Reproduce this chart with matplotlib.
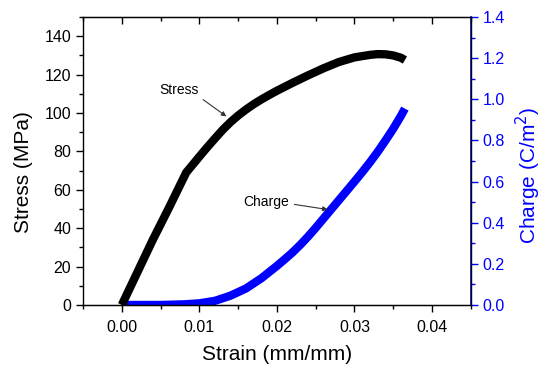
import matplotlib
matplotlib.use("Agg")
import matplotlib.pyplot as plt
from matplotlib.ticker import MultipleLocator, FormatStrFormatter

plt.rcParams['font.family'] = ['Liberation Sans', 'DejaVu Sans']

# Data
strain_s = [0.0, 0.002, 0.004, 0.006, 0.008, 0.0083, 0.009, 0.010, 0.011, 0.012,
            0.013, 0.014, 0.015, 0.016, 0.017, 0.018, 0.019, 0.020, 0.022, 0.024,
            0.026, 0.028, 0.030, 0.032, 0.033, 0.034, 0.035, 0.036, 0.0365]
stress = [0, 17, 34, 50, 66.5, 69, 72.4, 77.3, 82.1, 86.7,
          91.2, 95.2, 98.7, 101.8, 104.6, 107.1, 109.4, 111.6, 115.7, 119.6,
          123.3, 126.6, 129, 130.3, 130.7, 130.6, 130, 128.8, 127.6]

strain_c = [0.0, 0.005, 0.008, 0.010, 0.012, 0.014, 0.016, 0.017, 0.018, 0.019,
            0.020, 0.021, 0.022, 0.023, 0.024, 0.025, 0.026, 0.027, 0.028, 0.029,
            0.030, 0.031, 0.032, 0.033, 0.034, 0.035, 0.036, 0.0365]
charge = [0.0, 0.0, 0.003, 0.008, 0.02, 0.045, 0.08, 0.105, 0.13, 0.16,
          0.19, 0.222, 0.255, 0.292, 0.332, 0.375, 0.42, 0.465, 0.51, 0.555,
          0.600, 0.646, 0.694, 0.745, 0.80, 0.857, 0.92, 0.955]

fig = plt.figure(figsize=(5.5, 3.71), dpi=100)
ax = fig.add_axes([0.151, 0.178, 0.705, 0.776])
ax2 = ax.twinx()

ax2.plot(strain_c, charge, color='#0000ff', lw=6, solid_capstyle='butt',
         solid_joinstyle='round', zorder=2)
ax.plot(strain_s, stress, color='black', lw=6, solid_capstyle='butt',
        solid_joinstyle='round', zorder=3)
ax.set_zorder(ax2.get_zorder() + 1)
ax.patch.set_visible(False)

ax.set_xlim(-0.005, 0.045)
ax.set_ylim(0, 150)
ax2.set_ylim(0, 1.4)

ax.xaxis.set_major_locator(MultipleLocator(0.01))
ax.xaxis.set_minor_locator(MultipleLocator(0.005))
ax.xaxis.set_major_formatter(FormatStrFormatter('%.2f'))
ax.yaxis.set_major_locator(MultipleLocator(20))
ax.yaxis.set_minor_locator(MultipleLocator(10))
ax2.yaxis.set_major_locator(MultipleLocator(0.2))
ax2.yaxis.set_minor_locator(MultipleLocator(0.1))
ax2.yaxis.set_major_formatter(FormatStrFormatter('%.1f'))

tick_fs = 11.5
ax.tick_params(axis='x', which='major', direction='out', length=5, width=1, labelsize=tick_fs, pad=6)
ax.tick_params(axis='x', which='minor', direction='out', length=3, width=1)
ax.tick_params(axis='y', which='major', direction='out', length=5, width=1, labelsize=tick_fs)
ax.tick_params(axis='y', which='minor', direction='out', length=3, width=1)
ax2.tick_params(axis='y', which='major', direction='out', length=5, width=1, labelsize=tick_fs,
                colors='#0000ff')
ax2.tick_params(axis='y', which='minor', direction='out', length=3, width=1, colors='#0000ff')

# top ticks inward
secx = ax.secondary_xaxis('top')
secx.xaxis.set_major_locator(MultipleLocator(0.01))
secx.xaxis.set_minor_locator(MultipleLocator(0.005))
secx.tick_params(axis='x', which='major', direction='in', length=5, width=1, labeltop=False)
secx.tick_params(axis='x', which='minor', direction='in', length=3, width=1)
secx.spines['top'].set_visible(False)

for sp in ax.spines.values():
    sp.set_linewidth(1)
ax2.spines['right'].set_color('#0000ff')
ax2.spines['right'].set_linewidth(1.2)
ax2.spines['left'].set_visible(False)

ax.set_xlabel('Strain (mm/mm)', fontsize=15, labelpad=7)
ax.set_ylabel('Stress (MPa)', fontsize=15)
ax2.set_ylabel('Charge (C/m$^2$)', fontsize=15, color='#0000ff')
ax.yaxis.set_label_coords(-0.128, 0.462)
ax2.yaxis.set_label_coords(1.112, 0.451)

# annotations
ax.text(0.00734, 112, 'Stress', fontsize=10, ha='center', va='center')
ax.annotate('', xy=(0.01377, 97.4), xytext=(0.0102, 107.8),
            arrowprops=dict(arrowstyle='-|>', color='#333333', lw=0.8, mutation_scale=7))
ax.text(0.0157, 53.6, 'Charge', fontsize=10, ha='left', va='center')
ax.annotate('', xy=(0.0269, 49.5), xytext=(0.0219, 52.6),
            arrowprops=dict(arrowstyle='-|>', color='#333333', lw=0.8, mutation_scale=7))

fig.savefig('out.png', dpi=100)
